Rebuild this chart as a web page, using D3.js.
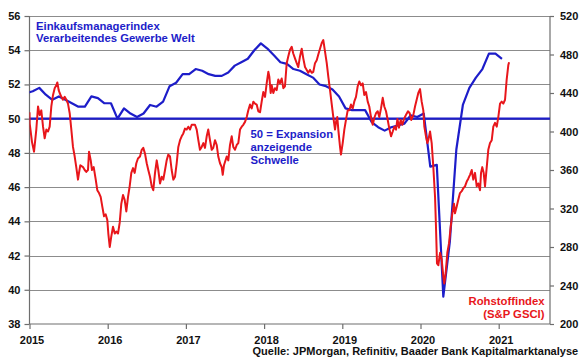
<!DOCTYPE html>
<html><head><meta charset="utf-8">
<script src="https://cdn.jsdelivr.net/npm/d3@7/dist/d3.min.js"></script>
<style>
html,body{margin:0;padding:0;background:#fff;}
svg{display:block;font-family:"Liberation Sans",Arial,sans-serif;}
</style></head>
<body><svg id="c" width="580" height="359"></svg>
<script>
// ---- data ----
const yearTicks = [2015, 2016, 2017, 2018, 2019, 2020, 2021];
const leftTicks = [38, 40, 42, 44, 46, 48, 50, 52, 54, 56];
const rightTicks = [200, 240, 280, 320, 360, 400, 440, 480, 520];
const threshold = 50;
// PMI monthly, Dec 2014 .. Jan 2021
const pmiStart = 2014 + 11/12;
const pmiValues = [51.5,
 51.6,51.8,51.4,51.1,51.3,51.1,50.9,50.7,50.7,51.3,51.2,50.9,
 50.9,50.0,50.6,50.3,50.1,50.3,50.8,50.7,51.0,51.9,52.1,52.6,
 52.6,52.9,52.8,52.6,52.5,52.5,52.7,53.1,53.3,53.5,54.0,54.4,
 54.1,53.7,53.3,53.2,52.9,52.8,52.6,52.4,52.0,51.9,51.7,51.3,
 50.6,50.5,50.5,50.5,49.8,49.5,49.3,49.5,49.6,49.7,50.2,50.1,
 50.3,47.2,47.3,39.6,42.8,48.2,50.8,51.8,52.4,52.9,53.8,53.8,
 53.5];
// S&P GSCI, years since 2015 and index level
const gsciT = [0.000,0.003,0.032,0.058,0.087,0.109,0.130,0.151,0.173,0.194,0.215,0.237,0.258,0.279,0.301,0.322,0.343,0.356,0.373,0.386,0.407,0.428,0.450,0.471,0.492,0.514,0.535,0.556,0.578,0.598,0.620,0.633,0.650,0.684,0.706,0.726,0.748,0.761,0.783,0.799,0.821,0.847,0.867,0.889,0.910,0.931,0.953,0.974,0.995,
1.008,1.026,1.046,1.068,1.090,1.110,1.132,1.153,1.174,1.196,1.217,1.238,1.260,1.281,1.302,1.324,1.345,1.366,1.387,1.413,1.435,1.455,1.477,1.499,1.519,1.541,1.563,1.583,1.605,1.627,1.647,1.669,1.691,1.711,1.733,1.754,1.775,1.797,1.818,1.839,1.861,1.882,1.903,1.925,1.946,1.967,1.988,
2.010,2.031,2.052,2.074,2.116,2.138,2.159,2.180,2.202,2.223,2.244,2.266,2.286,2.308,2.330,2.350,2.372,2.394,2.414,2.436,2.458,2.471,2.487,2.522,2.542,2.564,2.586,2.606,2.628,2.650,2.670,2.692,2.714,2.734,2.756,2.778,2.798,2.820,2.841,2.862,2.884,2.905,2.926,2.948,2.969,2.990,
3.012,3.033,3.054,3.067,3.084,3.097,3.118,3.139,3.161,3.182,3.203,3.225,3.246,3.267,3.289,3.309,3.331,3.353,3.373,3.395,3.417,3.437,3.459,3.481,3.501,3.523,3.545,3.565,3.587,3.609,3.629,3.651,3.673,3.693,3.715,3.737,3.757,3.779,3.801,3.821,3.843,3.864,3.885,3.907,3.920,3.936,3.949,3.971,3.983,
4.005,4.026,4.047,4.069,4.090,4.111,4.133,4.153,4.175,4.197,4.217,4.239,4.261,4.281,4.303,4.325,4.345,4.367,4.389,4.409,4.431,4.453,4.473,4.495,4.517,4.537,4.559,4.581,4.601,4.623,4.645,4.665,4.687,4.705,4.725,4.747,4.768,4.789,4.819,4.840,4.862,4.882,4.908,4.930,4.951,4.972,4.994,
5.015,5.036,5.049,5.070,5.087,5.100,5.122,5.143,5.164,5.186,5.198,5.211,5.228,5.250,5.271,5.292,5.304,5.322,5.343,5.365,5.386,5.407,5.428,5.441,5.463,5.483,5.505,5.527,5.547,5.569,5.591,5.611,5.633,5.655,5.675,5.697,5.719,5.739,5.761,5.774,5.790,5.808,5.825,5.847,5.867,5.889,5.911,5.931,5.953,5.975,5.995,
6.017,6.038,6.059,6.081,6.102,6.123,6.133];
const gsciV = [420,408,389,379,402,426,417,422,405,393,402,400,405,426,438,445,448,451,443,440,436,433,436,433,429,419,402,384,374,363,350,357,365,363,360,358,360,379,370,360,363,350,339,336,332,322,312,314,308,
294,280,291,301,294,296,294,305,325,334,329,317,332,343,357,362,357,367,372,374,381,383,377,367,360,353,343,339,357,370,360,346,353,350,360,370,376,374,360,350,353,367,384,391,395,398,403,
402,405,402,407,407,402,391,381,384,388,383,395,402,391,381,383,391,386,374,367,363,355,365,374,370,386,395,384,381,386,388,402,405,407,410,415,422,428,424,431,429,428,421,420,431,441,
436,450,462,457,440,448,440,445,443,454,450,455,445,447,471,478,485,488,481,476,471,467,478,486,476,467,464,461,464,461,462,471,474,480,486,492,495,483,471,457,443,429,415,402,410,415,402,384,376,
388,402,412,422,422,428,424,431,436,447,452,448,450,438,441,431,426,415,407,414,419,421,415,424,435,426,421,412,403,395,400,405,402,413,404,412,407,413,418,421,419,412,417,426,433,440,444,
431,422,405,395,388,391,400,388,363,332,301,263,261,274,267,249,242,253,274,284,301,315,325,315,322,329,336,338,341,343,348,351,355,360,350,357,343,346,339,357,363,357,343,363,381,388,391,405,409,405,415,
429,431,429,433,454,469,472];
const titleLines = ["Einkaufsmanagerindex", "Verarbeitendes Gewerbe Welt"];
const thresholdLines = ["50 = Expansion", "anzeigende", "Schwelle"];
const redLabelLines = ["Rohstoffindex", "(S&P GSCI)"];
const sourceText = "Quelle: JPMorgan, Refinitiv, Baader Bank Kapitalmarktanalyse";

// ---- layout ----
const L = 29.5, R = 550, T = 16, B = 324;
const BLUE = "#1d1dc9", RED = "#e8161b", GRID = "#8c8c8c", AX = "#6e6e6e";
const svg = d3.select("#c");
const x = d3.scaleLinear().domain([2015, 2015 + (R - L) / 78.2]).range([L, R]);
const yL = d3.scaleLinear().domain([38, 56]).range([B, T]);
const yR = d3.scaleLinear().domain([200, 520]).range([B, T]);

svg.append("defs").append("clipPath").attr("id","clip")
  .append("rect").attr("x", L).attr("y", T - 2).attr("width", R - L).attr("height", B - T + 4);

// gridlines
svg.append("g").selectAll("line").data(leftTicks.filter(d => d > 38)).join("line")
  .attr("x1", L).attr("x2", R).attr("y1", d => Math.round(yL(d)) + 0.5).attr("y2", d => Math.round(yL(d)) + 0.5)
  .attr("stroke", GRID).attr("stroke-width", 1);

// left axis
const gl = svg.append("g").attr("transform", `translate(${L},0)`)
  .call(d3.axisLeft(yL).tickValues(leftTicks).tickSize(5).tickPadding(4));
// right axis
const gr = svg.append("g").attr("transform", `translate(${R},0)`)
  .call(d3.axisRight(yR).tickValues(rightTicks).tickSize(4).tickPadding(6));
// bottom axis
const gb = svg.append("g").attr("transform", `translate(0,${B})`)
  .call(d3.axisBottom(x).tickValues(yearTicks).tickFormat(d3.format("d")).tickSize(5).tickPadding(7));
[gl, gr, gb].forEach(g => {
  g.selectAll("path").attr("stroke", AX).attr("stroke-width", 1.2);
  g.selectAll("line").attr("stroke", AX).attr("stroke-width", 1.2);
  g.selectAll("text").attr("fill", "#111").style("font-size", "11px").style("font-weight", "bold")
    .style("font-family", '"Liberation Sans",Arial,sans-serif');
});
gl.select(".domain").attr("d", `M0,${T}V${B}`);
gr.select(".domain").attr("d", `M0,${T}V${B}`);
gb.select(".domain").attr("d", `M${L},0H${R}`);
gb.selectAll("text").attr("dx", 2);

// 50 threshold
svg.append("line").attr("x1", L).attr("x2", R)
  .attr("y1", yL(threshold)).attr("y2", yL(threshold))
  .attr("stroke", BLUE).attr("stroke-width", 2.2);

const plot = svg.append("g").attr("clip-path", "url(#clip)");
// PMI line
const pmi = pmiValues.map((v, i) => ({t: pmiStart + (i + 0.5) / 12, v}));
plot.append("path").datum(pmi)
  .attr("d", d3.line().x(d => x(d.t)).y(d => yL(d.v)))
  .attr("fill", "none").attr("stroke", BLUE).attr("stroke-width", 2.2).attr("stroke-linejoin", "round");
// GSCI line
const gsci = gsciT.map((t, i) => ({t: 2015 + t, v: gsciV[i]}));
plot.append("path").datum(gsci)
  .attr("d", d3.line().x(d => x(d.t)).y(d => yR(d.v)))
  .attr("fill", "none").attr("stroke", RED).attr("stroke-width", 2).attr("stroke-linejoin", "round");

// texts
const txt = (s, xx, yy, col, anchor, size) => svg.append("text").text(s)
  .attr("x", xx).attr("y", yy).attr("fill", col).attr("text-anchor", anchor || "start")
  .style("font-size", (size || 11.3) + "px").style("font-weight", "bold");
titleLines.forEach((s, i) => txt(s, 36, 29.5 + i * 12, BLUE));
thresholdLines.forEach((s, i) => txt(s, 250.5, 138 + i * 12.8, BLUE));
redLabelLines.forEach((s, i) => txt(s, 544.5, 304.5 + i * 13, RED, "end"));
txt(sourceText, 252.5, 354.5, "#111", "start", 11);
</script></body></html>
